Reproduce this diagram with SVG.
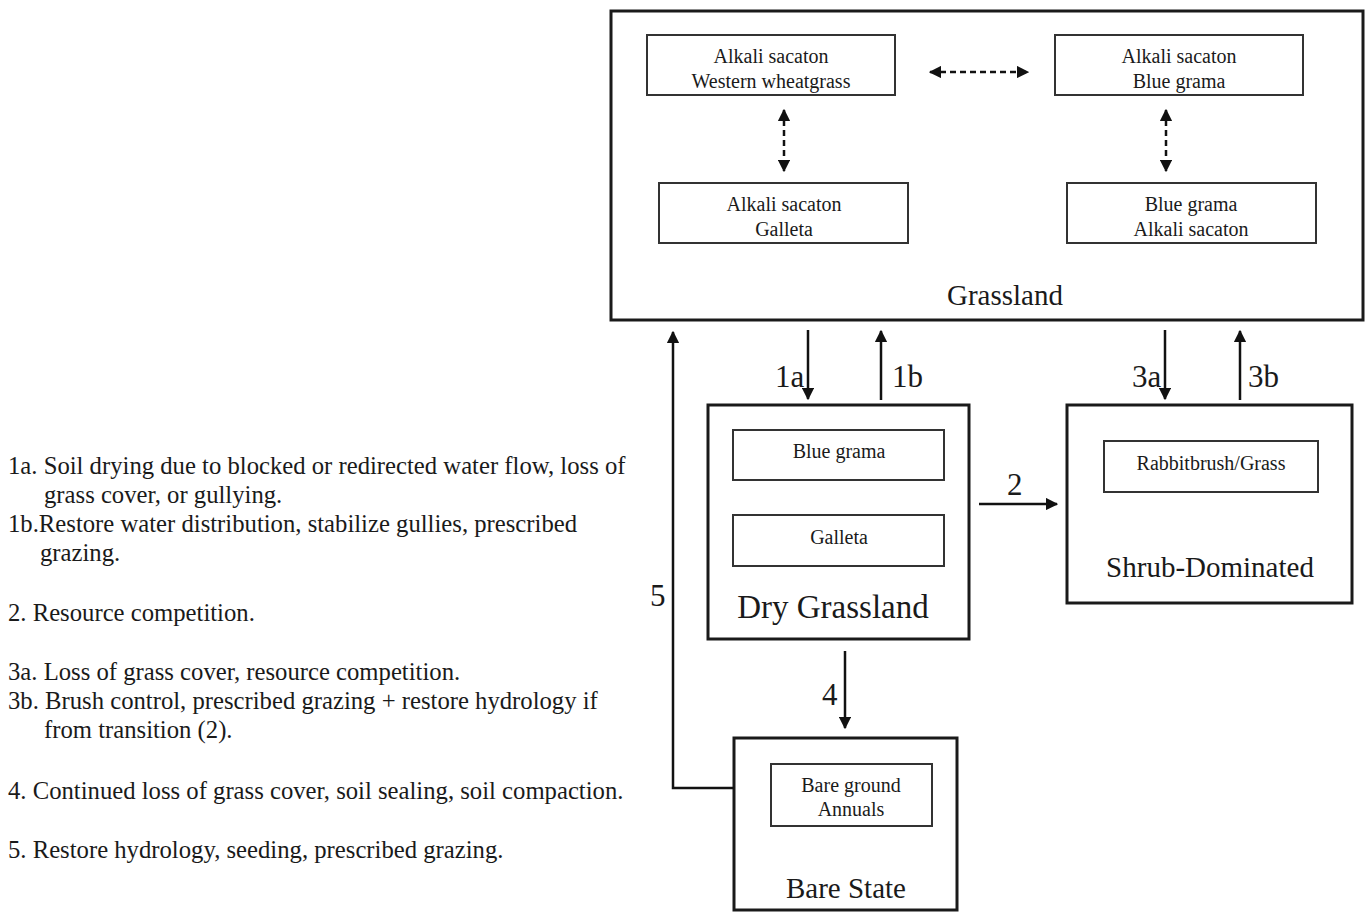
<svg xmlns="http://www.w3.org/2000/svg" width="1370" height="913" viewBox="0 0 1370 913">
<style>
.outer{fill:none;stroke:#1a1a1a;stroke-width:3}
.inner{fill:none;stroke:#333;stroke-width:2}
.t{font-family:"Liberation Serif",serif;fill:#1a1a1a}
.it{font-size:20px;text-anchor:middle}
.big{font-size:29px;text-anchor:middle}
.lab{font-size:31px}
.leg{font-size:24.7px}
.arr{stroke:#111;stroke-width:2.5;fill:none}
.dash{stroke:#111;stroke-width:2.5;fill:none;stroke-dasharray:6,4}
</style>
<defs>
<marker id="ah" viewBox="0 0 10 10" refX="9" refY="5" markerWidth="5" markerHeight="5" orient="auto-start-reverse" markerUnits="strokeWidth">
<path d="M0,0 L10,5 L0,10 z" fill="#111"/>
</marker>
</defs>
<rect width="1370" height="913" fill="#fff"/>
<g id="grassland">
<rect class="outer" x="611" y="11" width="752" height="309"/>
<text class="t big" x="1005" y="305">Grassland</text>
</g>
<g id="asww">
<rect class="inner" x="647" y="35" width="248" height="60"/>
<text class="t it" x="771" y="63">Alkali sacaton</text>
<text class="t it" x="771" y="88">Western wheatgrass</text>
</g>
<g id="asbg">
<rect class="inner" x="1055" y="35" width="248" height="60"/>
<text class="t it" x="1179" y="63">Alkali sacaton</text>
<text class="t it" x="1179" y="88">Blue grama</text>
</g>
<g id="asg">
<rect class="inner" x="659" y="183" width="249" height="60"/>
<text class="t it" x="784" y="211">Alkali sacaton</text>
<text class="t it" x="784" y="236">Galleta</text>
</g>
<g id="bgas">
<rect class="inner" x="1067" y="183" width="249" height="60"/>
<text class="t it" x="1191" y="211">Blue grama</text>
<text class="t it" x="1191" y="236">Alkali sacaton</text>
</g>
<g id="dry">
<rect class="outer" x="708" y="405" width="261" height="234"/>
<text class="t" x="833" y="618" font-size="33" text-anchor="middle">Dry Grassland</text>
</g>
<g id="bluegrama">
<rect class="inner" x="733" y="430" width="211" height="50"/>
<text class="t it" x="839" y="458">Blue grama</text>
</g>
<g id="galleta">
<rect class="inner" x="733" y="515" width="211" height="51"/>
<text class="t it" x="839" y="544">Galleta</text>
</g>
<g id="shrub">
<rect class="outer" x="1067" y="405" width="285" height="198"/>
<text class="t big" x="1210" y="577">Shrub-Dominated</text>
</g>
<g id="rabbit">
<rect class="inner" x="1104" y="441" width="214" height="51"/>
<text class="t it" x="1211" y="470">Rabbitbrush/Grass</text>
</g>
<g id="bare">
<rect class="outer" x="734" y="738" width="223" height="172"/>
<text class="t big" x="846" y="898">Bare State</text>
</g>
<g id="bareground">
<rect class="inner" x="771" y="764" width="161" height="62"/>
<text class="t it" x="851" y="792">Bare ground</text>
<text class="t it" x="851" y="816">Annuals</text>
</g>
<g id="connectors">
<line class="dash" x1="930" y1="72" x2="1028" y2="72" marker-start="url(#ah)" marker-end="url(#ah)"/>
<line class="dash" x1="784" y1="110" x2="784" y2="171" marker-start="url(#ah)" marker-end="url(#ah)"/>
<line class="dash" x1="1166" y1="110" x2="1166" y2="171" marker-start="url(#ah)" marker-end="url(#ah)"/>
<line class="arr" x1="808" y1="330" x2="808" y2="399" marker-end="url(#ah)"/>
<line class="arr" x1="881" y1="400" x2="881" y2="331" marker-end="url(#ah)"/>
<line class="arr" x1="1165" y1="330" x2="1165" y2="399" marker-end="url(#ah)"/>
<line class="arr" x1="1240" y1="400" x2="1240" y2="331" marker-end="url(#ah)"/>
<line class="arr" x1="979" y1="504" x2="1057" y2="504" marker-end="url(#ah)"/>
<line class="arr" x1="845" y1="651" x2="845" y2="728" marker-end="url(#ah)"/>
<polyline class="arr" points="734,788 673,788 673,332" marker-end="url(#ah)"/>
<text class="t lab" x="775" y="387">1a</text>
<text class="t lab" x="892" y="387">1b</text>
<text class="t lab" x="1132" y="387">3a</text>
<text class="t lab" x="1248" y="387">3b</text>
<text class="t lab" x="1007" y="495">2</text>
<text class="t lab" x="822" y="705">4</text>
<text class="t lab" x="650" y="606">5</text>
</g>
<g id="legend" class="t leg">
<text x="8" y="474">1a. Soil drying due to blocked or redirected water flow, loss of</text>
<text x="44" y="503">grass cover, or gullying.</text>
<text x="8" y="532">1b.Restore water distribution, stabilize gullies, prescribed</text>
<text x="40" y="561">grazing.</text>
<text x="8" y="621">2. Resource competition.</text>
<text x="8" y="680">3a. Loss of grass cover, resource competition.</text>
<text x="8" y="709">3b. Brush control, prescribed grazing + restore hydrology if</text>
<text x="44" y="738">from transition (2).</text>
<text x="8" y="799">4. Continued loss of grass cover, soil sealing, soil compaction.</text>
<text x="8" y="858">5. Restore hydrology, seeding, prescribed grazing.</text>
</g>
</svg>
